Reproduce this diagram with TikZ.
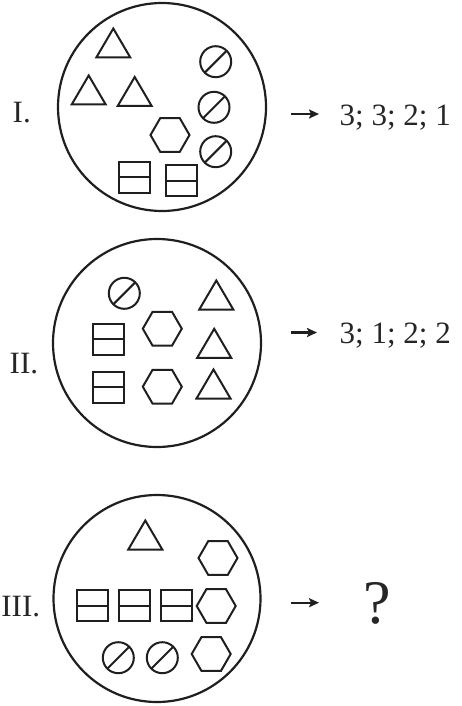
\documentclass[tikz,border=0pt]{standalone}
\usepackage{fontspec}
\setmainfont{Liberation Serif}
\usetikzlibrary{arrows.meta}
\tikzset{
  shp/.style={draw=black!88, line width=2pt, line join=miter},
  big/.style={draw=black!88, line width=2.2pt},
  lbl/.style={inner sep=0pt, anchor=base west, font=\fontsize{31}{36}\selectfont, text=black!85},
  arr/.style={line width=2.2pt, draw=black!88, -{Stealth[length=10pt,width=9pt,inset=2pt]}},
  tri/.pic={\draw[shp] (-17,14.5) -- (0,-14.5) -- (17,14.5) -- cycle;},
  hexa/.pic={\draw[shp] (0:19.5) -- (60:19.5) -- (120:19.5) -- (180:19.5) -- (240:19.5) -- (300:19.5) -- cycle;},
  slc/.pic={\draw[shp] (0,0) circle (15.5); \draw[shp] (135:15.5) -- (-45:15.5);},
  srect/.pic={\draw[shp] (-15.7,-15.5) rectangle (15.7,15.5); \draw[shp] (-15.7,0) -- (15.7,0);}
}
\begin{document}
\begin{tikzpicture}[x=1pt,y=-1pt]
\useasboundingbox (0,0) rectangle (461,706);
% ---------- I ----------
\node[big, circle, minimum size=208pt, inner sep=0pt] (c1) at (162,107) {};
\pic at (113.3,43) {tri};
\pic at (88.7,90) {tri};
\pic at (134.7,91.5) {tri};
\pic at (215.7,61.7) {slc};
\pic at (214,107.3) {slc};
\pic at (215.7,151.7) {slc};
\pic at (170,135) {hexa};
\pic at (134.7,177.2) {srect};
\pic at (181.7,180.8) {srect};
\node[lbl] (l1) at (12.5,122) {I.};
\coordinate (a1s) at (291,114);
\coordinate (a1e) at (319,114);
\draw[arr] (a1s) -- (a1e);
\node[lbl] (r1) at (339.5,125) {3; 3; 2; 1};
% ---------- II ----------
\node[big, circle, minimum size=208pt, inner sep=0pt] (c2) at (157,343) {};
\pic at (124.3,293.3) {slc};
\pic at (216.3,295) {tri};
\pic at (214.2,343.3) {tri};
\pic at (213.5,384) {tri};
\pic at (108.3,339.2) {srect};
\pic at (108.3,387.3) {srect};
\pic at (162.3,328.7) {hexa};
\pic at (162.3,386.7) {hexa};
\node[lbl] (l2) at (9.5,373) {II.};
\coordinate (a2s) at (291,332.5);
\coordinate (a2e) at (317,332.5);
\draw[arr] (a2s) -- (a2e);
\node[lbl] (r2) at (339.5,343.5) {3; 1; 2; 2};
% ---------- III ----------
\node[big, circle, minimum size=207pt, inner sep=0pt] (c3) at (157,598.5) {};
\pic at (145.3,535) {tri};
\pic at (218,558) {hexa};
\pic at (216.2,606) {hexa};
\pic at (211.2,654) {hexa};
\pic at (92.3,605.7) {srect};
\pic at (134.2,605.7) {srect};
\pic at (176.3,605.7) {srect};
\pic at (118.3,657.7) {slc};
\pic at (162.3,657.7) {slc};
\node[lbl] (l3) at (1.2,616.5) {III.};
\coordinate (a3s) at (291,602.7);
\coordinate (a3e) at (319,602.7);
\draw[arr] (a3s) -- (a3e);
\node[inner sep=0pt, anchor=base, font=\fontsize{62}{70}\selectfont, text=black!85] (q) at (377,623.3) {?};
\end{tikzpicture}
\end{document}
